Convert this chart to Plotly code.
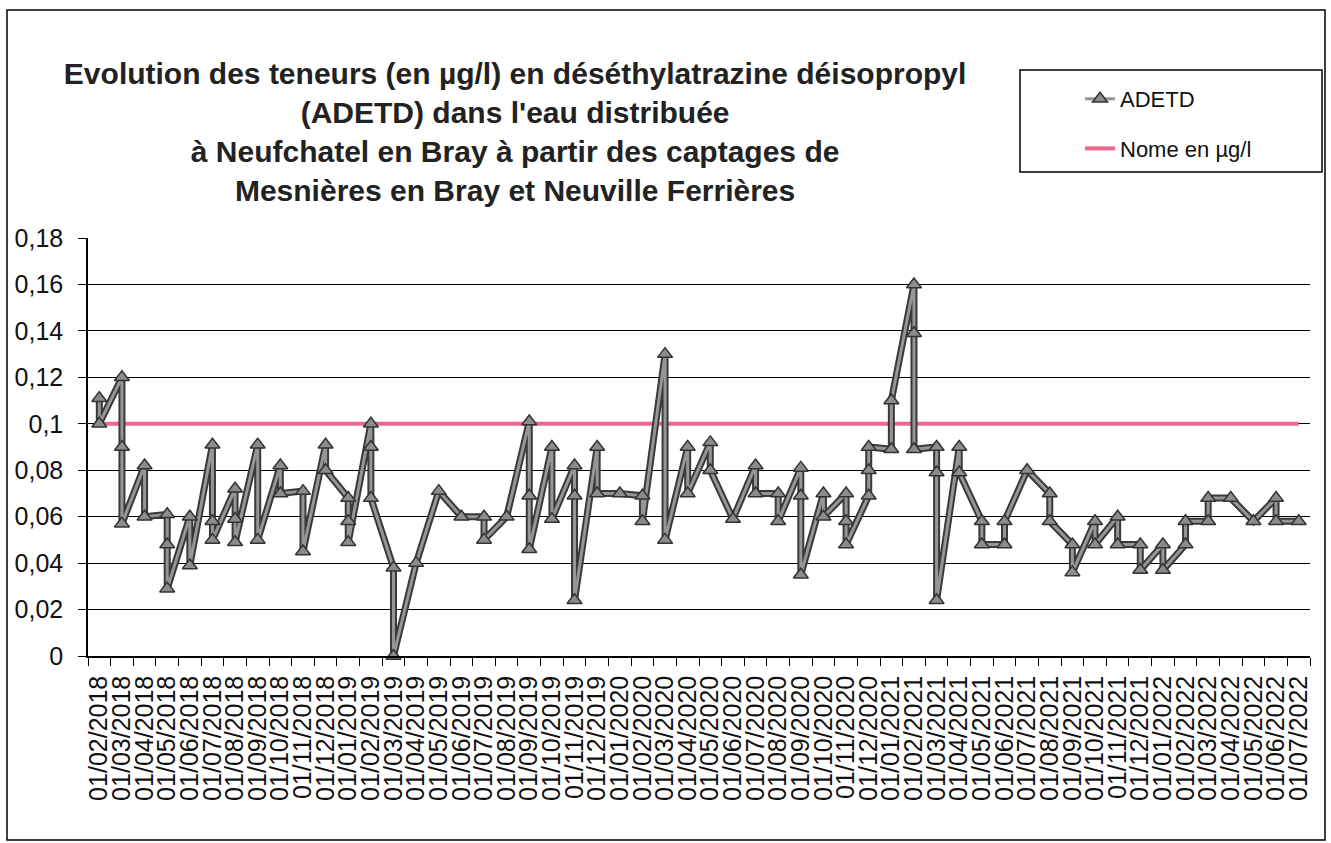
import plotly.graph_objects as go

# ---- category axis labels (one per month) ----
month_labels = [
    "01/02/2018", "01/03/2018", "01/04/2018", "01/05/2018", "01/06/2018", "01/07/2018",
    "01/08/2018", "01/09/2018", "01/10/2018", "01/11/2018", "01/12/2018",
    "01/01/2019", "01/02/2019", "01/03/2019", "01/04/2019", "01/05/2019", "01/06/2019",
    "01/07/2019", "01/08/2019", "01/09/2019", "01/10/2019", "01/11/2019", "01/12/2019",
    "01/01/2020", "01/02/2020", "01/03/2020", "01/04/2020", "01/05/2020", "01/06/2020",
    "01/07/2020", "01/08/2020", "01/09/2020", "01/10/2020", "01/11/2020", "01/12/2020",
    "01/01/2021", "01/02/2021", "01/03/2021", "01/04/2021", "01/05/2021", "01/06/2021",
    "01/07/2021", "01/08/2021", "01/09/2021", "01/10/2021", "01/11/2021", "01/12/2021",
    "01/01/2022", "01/02/2022", "01/03/2022", "01/04/2022", "01/05/2022", "01/06/2022",
    "01/07/2022",
]

# ---- ADETD samples: month of each sample and measured value (µg/l) ----
sample_months = [
    "01/02/2018", "01/02/2018",
    "01/03/2018", "01/03/2018", "01/03/2018",
    "01/04/2018", "01/04/2018",
    "01/05/2018", "01/05/2018", "01/05/2018",
    "01/06/2018", "01/06/2018",
    "01/07/2018", "01/07/2018", "01/07/2018",
    "01/08/2018", "01/08/2018", "01/08/2018",
    "01/09/2018", "01/09/2018",
    "01/10/2018", "01/10/2018",
    "01/11/2018", "01/11/2018",
    "01/12/2018", "01/12/2018",
    "01/01/2019", "01/01/2019", "01/01/2019",
    "01/02/2019", "01/02/2019", "01/02/2019",
    "01/03/2019", "01/03/2019",
    "01/04/2019",
    "01/05/2019",
    "01/06/2019",
    "01/07/2019", "01/07/2019",
    "01/08/2019",
    "01/09/2019", "01/09/2019", "01/09/2019",
    "01/10/2019", "01/10/2019",
    "01/11/2019", "01/11/2019", "01/11/2019",
    "01/12/2019", "01/12/2019",
    "01/01/2020",
    "01/02/2020", "01/02/2020",
    "01/03/2020", "01/03/2020",
    "01/04/2020", "01/04/2020",
    "01/05/2020", "01/05/2020",
    "01/06/2020",
    "01/07/2020", "01/07/2020",
    "01/08/2020", "01/08/2020",
    "01/09/2020", "01/09/2020", "01/09/2020",
    "01/10/2020", "01/10/2020",
    "01/11/2020", "01/11/2020", "01/11/2020",
    "01/12/2020", "01/12/2020", "01/12/2020",
    "01/01/2021", "01/01/2021",
    "01/02/2021", "01/02/2021", "01/02/2021",
    "01/03/2021", "01/03/2021", "01/03/2021",
    "01/04/2021", "01/04/2021",
    "01/05/2021", "01/05/2021",
    "01/06/2021", "01/06/2021",
    "01/07/2021",
    "01/08/2021", "01/08/2021",
    "01/09/2021", "01/09/2021",
    "01/10/2021", "01/10/2021",
    "01/11/2021", "01/11/2021",
    "01/12/2021", "01/12/2021",
    "01/01/2022", "01/01/2022",
    "01/02/2022", "01/02/2022",
    "01/03/2022", "01/03/2022",
    "01/04/2022",
    "01/05/2022",
    "01/06/2022", "01/06/2022",
    "01/07/2022",
]

adetd = [
    0.111, 0.100,
    0.120, 0.090, 0.057,
    0.082, 0.060,
    0.061, 0.048, 0.029,
    0.060, 0.039,
    0.091, 0.058, 0.050,
    0.072, 0.059, 0.049,
    0.091, 0.050,
    0.082, 0.070,
    0.071, 0.045,
    0.091, 0.080,
    0.068, 0.058, 0.049,
    0.100, 0.090, 0.068,
    0.038, 0.000,
    0.040,
    0.071,
    0.060,
    0.060, 0.050,
    0.060,
    0.101, 0.069, 0.046,
    0.090, 0.059,
    0.082, 0.069, 0.024,
    0.090, 0.070,
    0.070,
    0.069, 0.058,
    0.130, 0.050,
    0.090, 0.070,
    0.092, 0.080,
    0.059,
    0.082, 0.070,
    0.070, 0.058,
    0.081, 0.069, 0.035,
    0.070, 0.060,
    0.070, 0.058, 0.048,
    0.069, 0.080, 0.090,
    0.089, 0.110,
    0.160, 0.139, 0.089,
    0.090, 0.079, 0.024,
    0.090, 0.079,
    0.058, 0.048,
    0.048, 0.058,
    0.080,
    0.070, 0.058,
    0.048, 0.036,
    0.058, 0.048,
    0.060, 0.048,
    0.048, 0.037,
    0.048, 0.037,
    0.048, 0.058,
    0.058, 0.068,
    0.068,
    0.058,
    0.068, 0.058,
    0.058,
]

norme_value = 0.10
y_tick_values = [0, 0.02, 0.04, 0.06, 0.08, 0.10, 0.12, 0.14, 0.16, 0.18]

FONT = "Arial, 'Liberation Sans', sans-serif"

fig = go.Figure()

# Norm line (drawn beneath the ADETD series)
fig.add_trace(go.Scatter(
    x=month_labels, y=[norme_value] * len(month_labels),
    mode="lines", name="Nome en µg/l",
    line=dict(color="#F0668F", width=4),
    legendgroup="b", legendrank=2, hoverinfo="skip",
))

# ADETD: dark outline under a grey core
fig.add_trace(go.Scatter(
    x=sample_months, y=adetd, mode="lines",
    line=dict(color="#3a3a3a", width=7),
    showlegend=False, hoverinfo="skip", cliponaxis=False,
))
fig.add_trace(go.Scatter(
    x=sample_months, y=adetd, mode="lines+markers", name="ADETD",
    line=dict(color="#969696", width=3),
    marker=dict(symbol="triangle-up", size=13, color="#8c8c8c",
                line=dict(color="#333333", width=1.5)),
    cliponaxis=False, legendgroup="a", legendrank=1,
))

fig.update_layout(
    width=1331, height=843,
    paper_bgcolor="white", plot_bgcolor="white",
    margin=dict(l=88, r=21, t=238, b=187, autoexpand=False),
    separators=", ",
    font=dict(family=FONT, color="#111111"),
    title=dict(
        text=("Evolution des teneurs (en µg/l) en déséthylatrazine déisopropyl<br>"
              "(ADETD) dans l'eau distribuée<br>"
              "à Neufchatel en Bray à partir des captages de<br>"
              "Mesnières en Bray et Neuville Ferrières"),
        font=dict(family=FONT, size=30, color="#222222", weight="bold"),
        x=0.387, xanchor="center", xref="container",
        y=1 - 84 / 843, yanchor="top", yref="container",
    ),
    xaxis=dict(
        type="category", categoryorder="array", categoryarray=month_labels,
        range=[-0.5, len(month_labels) - 0.5],
        tickmode="linear", tick0=0, dtick=1,
        tickson="boundaries", ticks="outside", ticklen=8, tickcolor="black",
        tickangle=-90, tickfont=dict(family=FONT, size=25, color="#111111"),
        ticklabelstandoff=8,
        showline=True, linecolor="black", linewidth=1.5,
        showgrid=False, zeroline=False, automargin=False,
    ),
    yaxis=dict(
        range=[0, 0.18], tickmode="array", tickvals=y_tick_values,
        ticks="outside", ticklen=8, tickcolor="black",
        tickfont=dict(family=FONT, size=25, color="#111111"),
        ticklabelstandoff=10,
        showline=True, linecolor="black", linewidth=1.5,
        showgrid=True, gridcolor="black", gridwidth=1,
        zeroline=False, automargin=False,
    ),
    legend=dict(
        xref="container", yref="container",
        x=1080 / 1331, y=1 - 78 / 843,
        xanchor="left", yanchor="top",
        bgcolor="rgba(0,0,0,0)", borderwidth=0,
        font=dict(family=FONT, size=22, color="#111111"),
        tracegroupgap=18,
    ),
    shapes=[
        # legend frame
        dict(type="rect", xref="paper", yref="paper",
             x0=(1020 - 88) / 1222, x1=(1322 - 88) / 1222,
             y0=(656 - 172) / 418, y1=(656 - 70) / 418,
             line=dict(color="black", width=1.5)),
        # outer chart frame
        dict(type="rect", xref="paper", yref="paper",
             x0=(7 - 88) / 1222, x1=(1325 - 88) / 1222,
             y0=(656 - 840) / 418, y1=(656 - 10) / 418,
             line=dict(color="black", width=1.5)),
    ],
)

fig.write_html(
    "out.html",
    config={"displayModeBar": False},
    post_script="document.body.style.margin='0';document.body.style.overflow='hidden';",
)
